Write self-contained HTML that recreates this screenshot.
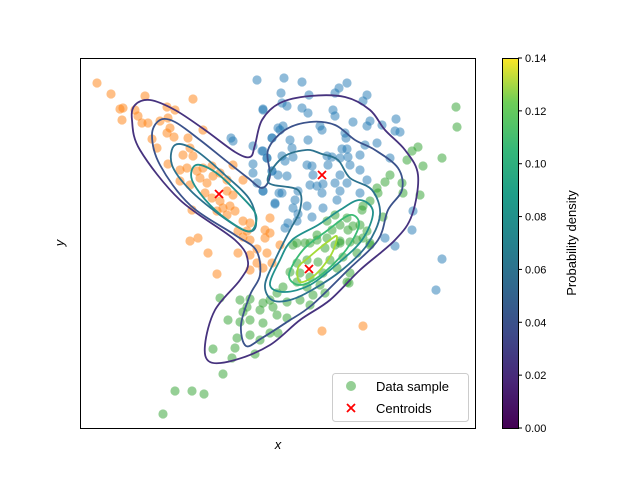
<!DOCTYPE html>
<html><head><meta charset="utf-8"><style>
body{margin:0;background:#fff;font-family:"Liberation Sans",sans-serif}
svg text{font-family:"Liberation Sans",sans-serif}
</style></head><body>
<svg id="c" width="640" height="480" viewBox="0 0 640 480">
<defs><linearGradient id="vir" x1="0" y1="1" x2="0" y2="0">
<stop offset="0" stop-color="#440154"/><stop offset="0.13" stop-color="#482878"/><stop offset="0.25" stop-color="#3e4989"/><stop offset="0.38" stop-color="#31688e"/><stop offset="0.5" stop-color="#26828e"/><stop offset="0.63" stop-color="#1f9e89"/><stop offset="0.75" stop-color="#35b779"/><stop offset="0.88" stop-color="#6ece58"/><stop offset="1" stop-color="#fde725"/></linearGradient></defs>
<g id="pts"></g>
<g id="cont"></g>
<g id="cents"></g>
<rect x="80.5" y="58.5" width="395" height="370" fill="none" stroke="#000" stroke-width="1"/>
<text x="278" y="449" font-size="13" font-style="italic" text-anchor="middle">x</text>
<text x="0" y="0" font-size="13" font-style="italic" text-anchor="middle" transform="translate(64,243) rotate(-90)">y</text>
<g>
<rect x="332.5" y="373.5" width="136" height="48" rx="3" fill="#fff" fill-opacity="0.8" stroke="#ccc"/>
<circle cx="351" cy="386" r="5" fill="#2ca02c" fill-opacity="0.5"/>
<text x="376" y="391" font-size="13">Data sample</text>
<path d="M347,404 L355,412 M355,404 L347,412" stroke="#f00" stroke-width="1.8"/>
<text x="376" y="413" font-size="13">Centroids</text>
</g>
<g>
<rect x="502" y="58" width="16" height="370" fill="url(#vir)"/>
<rect x="502.5" y="58.5" width="16" height="370" fill="none" stroke="#000" stroke-width="1"/>
<g id="cbt"></g>
<text x="0" y="0" font-size="13" text-anchor="middle" transform="translate(576,243) rotate(-90)">Probability density</text>
</g>
</svg>
<script>
const blueX=[284,302,347,339,335,281,309,367,363,263,282,287,302,308,333,335,353,370,367,382,396,395,400,283,280,320,322,345,346,272,290,308,377,365,342,347,263,292,267,282,285,293,327,332,340,348,360,390,307,312,328,350,360,272,278,287,313,340,310,317,323,335,347,367,263,282,298,295,322,340,360,275,293,307,337,323,298,312,288,285,297,413,412,385,395,257,263,231,233,253,262,267,272,278,253,253,257,263,272,275,279,442,436];
const blueY=[78,82,83,88,93,93,95,95,101,109,103,106,108,113,110,116,122,121,126,125,119,131,132,126,130,126,130,133,138,138,140,140,143,145,149,149,151,148,158,156,161,157,156,157,158,157,155,158,165,166,165,165,170,171,175,176,175,175,185,186,184,183,183,180,191,193,191,200,193,191,193,204,208,206,200,208,214,217,223,228,221,211,230,238,246,80,110,138,141,146,151,158,138,128,164,173,183,191,171,203,193,259,290];
const orangeX=[97,111,120,123,122,135,145,138,142,148,160,167,175,168,170,193,203,152,157,167,174,188,190,183,193,168,180,187,197,203,212,180,190,200,207,213,220,227,233,243,205,212,220,227,233,223,230,235,217,227,192,243,250,247,265,265,270,190,198,250,238,208,217,238,243,250,257,267,250,257,263,272,280,270,322,363];
const orangeY=[83,94,109,108,120,110,96,116,123,123,121,107,110,118,128,99,130,139,148,133,137,138,148,155,156,164,170,168,171,168,166,181,185,178,183,176,173,180,165,180,193,198,201,191,195,208,206,211,211,215,210,221,223,231,230,238,218,241,238,240,231,253,274,253,237,255,249,253,270,263,268,263,245,233,331,326];
const greenX=[456,457,442,418,412,407,423,390,385,402,403,420,377,378,370,383,362,363,335,347,353,340,327,332,348,360,367,317,327,340,357,370,310,297,293,305,317,325,335,340,350,363,370,357,343,330,318,307,297,290,300,310,297,323,337,350,347,320,307,283,277,270,263,250,240,247,260,273,287,300,313,325,310,220,243,240,250,263,277,287,250,260,270,278,228,237,235,232,213,255,223,175,192,204,163,349];
const greenY=[107,127,158,147,151,160,166,175,182,183,193,195,188,193,201,217,210,206,215,218,226,225,221,230,230,225,231,235,238,241,240,243,243,243,245,243,240,248,245,243,242,238,245,253,257,260,262,260,263,272,273,277,282,273,268,273,282,285,287,287,293,300,303,299,300,307,310,307,302,300,295,293,305,298,312,322,320,323,315,318,335,340,333,333,320,338,348,358,349,354,374,391,391,394,414,283];
const centX=[219,322,309];
const centY=[194,175,269];
const cbTicks=[0,0.02,0.04,0.06,0.08,0.10,0.12,0.14];
const cbLabels=["0.00","0.02","0.04","0.06","0.08","0.10","0.12","0.14"];
const contourX=[
[135,150,175,205,235,250,255,262,280,310,345,370,385,405,418,412,395,360,330,300,270,235,210,205,215,240,248,235,180,140,132],
[160,175,200,225,248,262,270,268,285,310,335,355,375,398,402,388,378,348,312,287,262,246,241,250,260,256,235,190,160,152],
[175,195,225,250,256,246,220,190,172],
[268,282,306,322,338,350,372,380,367,342,312,290,272,265,275,290,300,298],
[196,215,240,256,251,235,210,192],
[292,318,340,360,373,362,336,310,285,270,280],
[303,328,350,359,346,321,300,289],
[308,330,337,331,315,300,298]];
const contourY=[
[105,100,110,130,152,157,145,120,103,96,97,110,130,150,175,215,240,270,300,320,345,360,362,345,310,280,262,240,200,150,120],
[120,122,140,160,178,188,176,150,130,122,125,140,150,168,190,210,240,270,305,322,338,346,325,295,275,250,235,205,165,135],
[145,150,175,200,225,231,215,190,165],
[182,158,150,154,160,178,190,215,245,270,290,300,300,285,260,230,210,190],
[165,172,195,215,231,225,205,180],
[240,225,210,200,212,240,265,285,292,285,260],
[250,230,215,225,250,275,285,275],
[258,240,237,255,275,282,268]];
const contourColors=["#46327e","#3b528b","#2c728e","#2c728e","#21918c","#21918c","#3bbb75","#a5db36"];
const X0=80,W=395,Y0=58,H=370,xMin=80,xMax=475,yMin=58,yMax=428;
const xs=d=>X0+(d-xMin)/(xMax-xMin)*W;
const ys=d=>Y0+(d-yMin)/(yMax-yMin)*H;
const cs=v=>428-v/0.14*370;
const NS="http://www.w3.org/2000/svg";
const pts=document.getElementById('pts');
function scatter(X,Y,col,name){X.forEach((x,i)=>{const c=document.createElementNS(NS,'circle');
c.setAttribute('cx',xs(x));c.setAttribute('cy',ys(Y[i]));c.setAttribute('r',4.6);c.setAttribute('fill',col);c.setAttribute('fill-opacity',0.5);


pts.appendChild(c);});}
scatter(blueX,blueY,'#1f77b4','point-cluster-blue');
scatter(orangeX,orangeY,'#ff7f0e','point-cluster-orange');
scatter(greenX,greenY,'#2ca02c','point-cluster-green');
const cont=document.getElementById('cont');
contourX.forEach((cx,k)=>{const P=cx.map((x,i)=>[xs(x),ys(contourY[k][i])]);const n=P.length;
let d='M'+P[0][0]+','+P[0][1];
for(let i=0;i<n;i++){const p0=P[(i-1+n)%n],p1=P[i],p2=P[(i+1)%n],p3=P[(i+2)%n];
d+=' C'+(p1[0]+(p2[0]-p0[0])/6)+','+(p1[1]+(p2[1]-p0[1])/6)+' '+(p2[0]-(p3[0]-p1[0])/6)+','+(p2[1]-(p3[1]-p1[1])/6)+' '+p2[0]+','+p2[1];}
const p=document.createElementNS(NS,'path');p.setAttribute('d',d+'Z');p.setAttribute('fill','none');p.setAttribute('stroke',contourColors[k]);p.setAttribute('stroke-width',1.8);


cont.appendChild(p);});
const cents=document.getElementById('cents');
centX.forEach((x,i)=>{const X=xs(x),Y=ys(centY[i]);const p=document.createElementNS(NS,'path');
p.setAttribute('d',`M${X-4},${Y-4} L${X+4},${Y+4} M${X+4},${Y-4} L${X-4},${Y+4}`);p.setAttribute('stroke','#f00');p.setAttribute('stroke-width',1.8);


cents.appendChild(p);});
const cbt=document.getElementById('cbt');
cbTicks.forEach((v,i)=>{const y=cs(v);const l=document.createElementNS(NS,'line');
l.setAttribute('x1',518);l.setAttribute('x2',522);l.setAttribute('y1',y);l.setAttribute('y2',y);l.setAttribute('stroke','#000');


cbt.appendChild(l);
const t=document.createElementNS(NS,'text');t.setAttribute('x',525);t.setAttribute('y',y+4);t.setAttribute('font-size',11);t.textContent=cbLabels[i];


cbt.appendChild(t);});
</script>
</body></html>
